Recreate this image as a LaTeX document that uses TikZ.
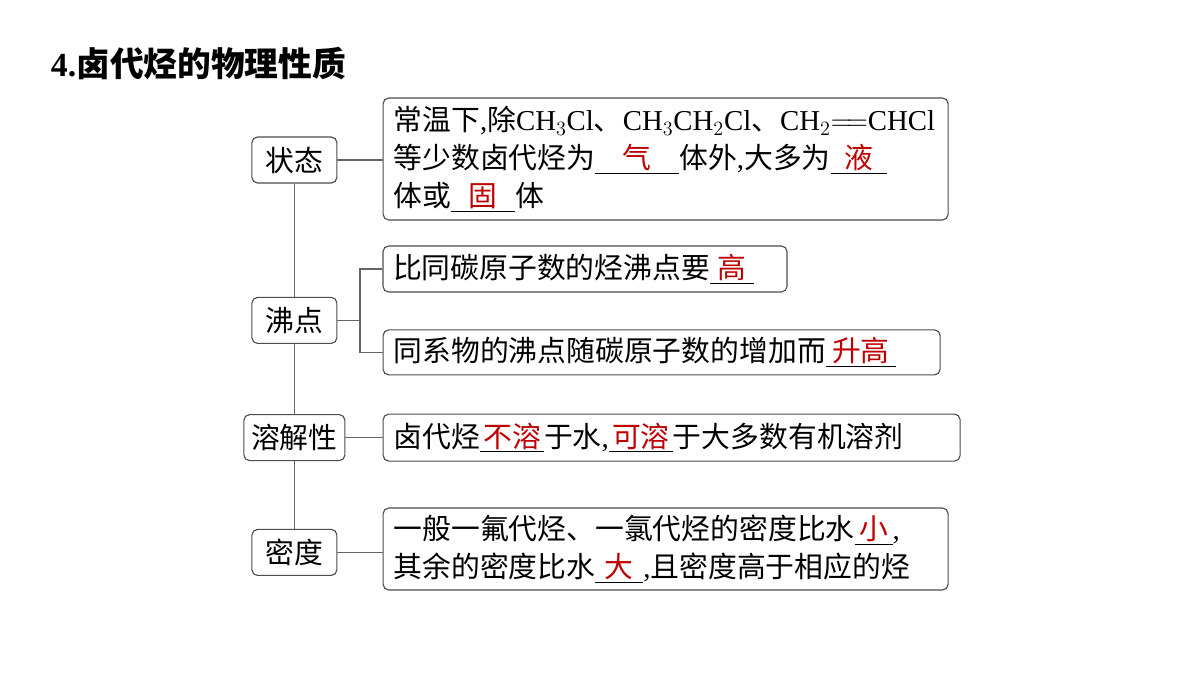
\documentclass[tikz,border=0pt]{standalone}
\usepackage{fontspec}
\setmainfont{Noto Sans CJK SC}
\newfontfamily\lat{Liberation Serif}
\usetikzlibrary{positioning}
\newcommand{\blank}[2]{\underline{\makebox[#1]{\color{red!75!black}#2}}}
\tikzset{
  rbox/.style={draw=black!70, thick, rounded corners=4pt, align=left, inner sep=0pt,
    font=\fontsize{20.5}{27}\selectfont},
  lbox/.style={draw=black!70, thick, rounded corners=4pt, align=center, minimum height=1.15cm,
    font=\fontsize{20.5}{23}\selectfont},
  link/.style={draw=black!60, thick}
}
\begin{document}
\begin{tikzpicture}
  \useasboundingbox (0,0) rectangle (30,-16.875);
  % title
  \node[anchor=west, font=\fontsize{24}{28}\selectfont\bfseries] (title) at (1.15,-1.6) {{\lat 4.}卤代烃的物理性质};

  % left column
  \node[lbox, minimum width=2.125cm] (state) at (7.36,-4.0) {状态};
  \node[lbox, minimum width=2.125cm] (boil) at (7.36,-8.01) {沸点};
  \node[lbox, minimum width=2.525cm] (solu) at (7.36,-10.94) {溶解性};
  \node[lbox, minimum width=2.125cm] (dens) at (7.36,-13.81) {密度};

  % right column
  \node[rbox, minimum width=14.125cm, minimum height=3.05cm, text width=13.6cm] (b1) at (16.64,-3.975)
    {常温下{\lat ,}除{\lat CH$_3$Cl}、{\lat CH$_3$CH$_2$Cl}、{\lat CH$_2$$=\!=$CHCl}\\
     等少数卤代烃为\blank{2.1cm}{气}体外{\lat ,}大多为\blank{1.4cm}{液}\\
     体或\blank{1.6cm}{固}体};
  \node[rbox, minimum width=10.1cm, minimum height=1.15cm, text width=9.6cm] (b2) at (14.625,-6.725)
    {比同碳原子数的烃沸点要\blank{1.1cm}{高}};
  \node[rbox, minimum width=13.925cm, minimum height=1.125cm, text width=13.4cm] (b3) at (16.54,-8.81)
    {同系物的沸点随碳原子数的增加而\blank{1.75cm}{升高}};
  \node[rbox, minimum width=14.425cm, minimum height=1.175cm, text width=13.9cm] (b4) at (16.79,-10.94)
    {卤代烃\blank{1.6cm}{不溶}于水{\lat ,}\blank{1.6cm}{可溶}于大多数有机溶剂};
  \node[rbox, minimum width=14.125cm, minimum height=2.05cm, text width=13.6cm] (b5) at (16.64,-13.725)
    {一般一氟代烃、一氯代烃的密度比水\blank{0.95cm}{小}{\lat ,}\\
     其余的密度比水\blank{1.2cm}{大}{\lat ,}且密度高于相应的烃};

  % connectors
  \draw[link] (state.south) -- (boil.north);
  \draw[link] (boil.south) -- (solu.north);
  \draw[link] (solu.south) -- (dens.north);
  \draw[link] (state.east) -- (b1.west |- state.east);
  \coordinate (fork) at (9.0,-8.01);
  \draw[link] (boil.east) -- (fork);
  \draw[link] (b2.west) -| (fork) |- (b3.west);
  \draw[link] (solu.east) -- (b4.west);
  \draw[link] (dens.east) -- (b5.west |- dens.east);
\end{tikzpicture}
\end{document}
